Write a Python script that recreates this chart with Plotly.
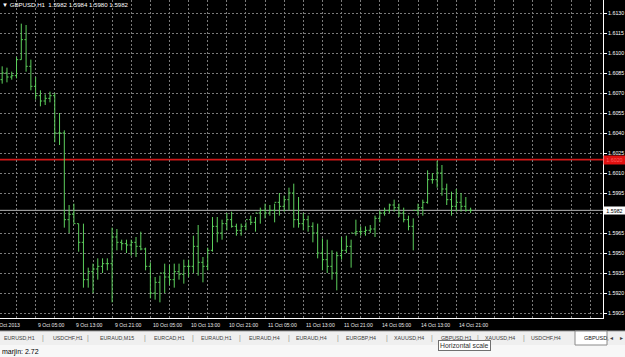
import plotly.graph_objects as go

# ---------------- data (GBPUSD, H1) ----------------
symbol = "GBPUSD,H1"
open_ = [1.6085, 1.6080, 1.6085, 1.6082, 1.6083, 1.6095, 1.6110, 1.6090, 1.6075, 1.6068,
         1.6064, 1.6066, 1.6068, 1.6040, 1.6040, 1.5975, 1.5979, 1.5972, 1.5958, 1.5930,
         1.5936, 1.5938, 1.5940, 1.5942, 1.5942, 1.5962, 1.5958, 1.5957, 1.5956, 1.5958,
         1.5955, 1.5953, 1.5940, 1.5920, 1.5928, 1.5935, 1.5932, 1.5930, 1.5936, 1.5934,
         1.5940, 1.5940, 1.5955, 1.5943, 1.5940, 1.5952, 1.5970, 1.5965, 1.5972, 1.5975,
         1.5970, 1.5967, 1.5970, 1.5975, 1.5973, 1.5980, 1.5982, 1.5980, 1.5982, 1.5988,
         1.5985, 1.5990, 1.5995, 1.5975, 1.5972, 1.5975, 1.5970, 1.5965, 1.5950, 1.5945,
         1.5940, 1.5935, 1.5948, 1.5952, 1.5955, 1.5965, 1.5966, 1.5966, 1.5967, 1.5968,
         1.5976, 1.5980, 1.5982, 1.5986, 1.5984, 1.5980, 1.5975, 1.5970, 1.5982, 1.5984,
         1.5988, 1.6005, 1.6005, 1.6010, 1.5998, 1.5990, 1.5985, 1.5988, 1.5985, 1.5982]
high = [1.6089, 1.6090, 1.6089, 1.6086, 1.6097, 1.6122, 1.6121, 1.6095, 1.6082, 1.6072,
        1.6069, 1.6071, 1.6070, 1.6055, 1.6042, 1.5986, 1.5987, 1.5972, 1.5972, 1.5939,
        1.5942, 1.5946, 1.5946, 1.5946, 1.5969, 1.5968, 1.5960, 1.5960, 1.5960, 1.5962,
        1.5966, 1.5954, 1.5943, 1.5932, 1.5933, 1.5942, 1.5941, 1.5942, 1.5942, 1.5945,
        1.5945, 1.5963, 1.5971, 1.5947, 1.5954, 1.5977, 1.5977, 1.5975, 1.5980, 1.5981,
        1.5972, 1.5972, 1.5973, 1.5978, 1.5977, 1.5984, 1.5987, 1.5986, 1.5987, 1.5995,
        1.5993, 1.5999, 1.6002, 1.5992, 1.5980, 1.5978, 1.5973, 1.5972, 1.5961, 1.5960,
        1.5952, 1.5951, 1.5962, 1.5963, 1.5960, 1.5975, 1.5970, 1.5970, 1.5971, 1.5978,
        1.5982, 1.5984, 1.5987, 1.5990, 1.5987, 1.5984, 1.5978, 1.5976, 1.5987, 1.5990,
        1.6012, 1.6010, 1.6019, 1.6016, 1.6002, 1.5996, 1.5998, 1.5995, 1.5992, 1.5984]
low = [1.6078, 1.6077, 1.6078, 1.6080, 1.6081, 1.6095, 1.6086, 1.6072, 1.6065, 1.6060,
       1.6061, 1.6063, 1.6033, 1.6031, 1.5969, 1.5965, 1.5972, 1.5951, 1.5924, 1.5924,
       1.5920, 1.5930, 1.5935, 1.5937, 1.5913, 1.5952, 1.5952, 1.5950, 1.5948, 1.5947,
       1.5952, 1.5937, 1.5916, 1.5915, 1.5913, 1.5920, 1.5926, 1.5924, 1.5930, 1.5927,
       1.5932, 1.5935, 1.5933, 1.5928, 1.5937, 1.5951, 1.5958, 1.5960, 1.5967, 1.5969,
       1.5963, 1.5963, 1.5967, 1.5971, 1.5966, 1.5972, 1.5976, 1.5978, 1.5973, 1.5978,
       1.5981, 1.5982, 1.5969, 1.5969, 1.5967, 1.5966, 1.5958, 1.5946, 1.5937, 1.5935,
       1.5930, 1.5922, 1.5945, 1.5950, 1.5939, 1.5963, 1.5963, 1.5963, 1.5965, 1.5962,
       1.5973, 1.5978, 1.5980, 1.5981, 1.5977, 1.5973, 1.5967, 1.5952, 1.5978, 1.5978,
       1.5987, 1.6002, 1.5999, 1.5993, 1.5986, 1.5978, 1.5981, 1.5981, 1.5981, 1.5980]
close = [1.6080, 1.6085, 1.6082, 1.6083, 1.6095, 1.6110, 1.6090, 1.6075, 1.6068, 1.6064,
         1.6066, 1.6068, 1.6040, 1.6040, 1.5975, 1.5979, 1.5972, 1.5958, 1.5930, 1.5936,
         1.5938, 1.5940, 1.5942, 1.5942, 1.5962, 1.5958, 1.5957, 1.5956, 1.5958, 1.5955,
         1.5953, 1.5940, 1.5920, 1.5928, 1.5935, 1.5932, 1.5930, 1.5936, 1.5934, 1.5940,
         1.5940, 1.5955, 1.5943, 1.5940, 1.5952, 1.5970, 1.5965, 1.5972, 1.5975, 1.5970,
         1.5967, 1.5970, 1.5975, 1.5973, 1.5980, 1.5982, 1.5980, 1.5982, 1.5988, 1.5985,
         1.5990, 1.5995, 1.5975, 1.5972, 1.5975, 1.5970, 1.5965, 1.5950, 1.5945, 1.5940,
         1.5935, 1.5948, 1.5952, 1.5955, 1.5965, 1.5966, 1.5966, 1.5967, 1.5968, 1.5976,
         1.5980, 1.5982, 1.5986, 1.5984, 1.5980, 1.5975, 1.5970, 1.5982, 1.5984, 1.5988,
         1.6005, 1.6005, 1.6010, 1.5998, 1.5990, 1.5985, 1.5988, 1.5985, 1.5982, 1.5982]
bar_index = list(range(len(close)))

# time-axis labels (every 8 bars)
date_label_bars = [0, 8, 16, 24, 32, 40, 48, 56, 64, 72, 80, 88, 96]
date_labels = ["8 Oct 2013", "9 Oct 05:00", "9 Oct 13:00", "9 Oct 21:00",
               "10 Oct 05:00", "10 Oct 13:00", "10 Oct 21:00", "11 Oct 05:00",
               "11 Oct 13:00", "11 Oct 21:00", "14 Oct 05:00", "14 Oct 13:00",
               "14 Oct 21:00"]
price_ticks = [1.5905, 1.5920, 1.5935, 1.5950, 1.5965, 1.5980, 1.5995, 1.6010,
               1.6025, 1.6040, 1.6055, 1.6070, 1.6085, 1.6100, 1.6115, 1.6130]
alert_level = 1.6020
bid_level = 1.5982
tabs = ["EURUSD,H1", "USDCHF,H1", "EURAUD,M15", "EURCAD,H1", "EURAUD,H1", "EURAUD,H4",
        "EURAUD,H4", "EURGBP,H4", "XAUUSD,H4", "GBPUSD,H1", "XAUUSD,H4", "USDCHF,H4"]
active_tab = "GBPUSD,"
status_text = "marjin: 2.72"
tooltip_text = "Horizontal scale"

# ---------------- layout geometry ----------------
W, H = 625, 357
PLOT_W, PLOT_H = 603, 318
BAR_PX = 4.78
FIRST_BAR_PX = -2.6
X_RANGE = [(0 - FIRST_BAR_PX) / BAR_PX, (PLOT_W - FIRST_BAR_PX) / BAR_PX]
Y_RANGE = [1.590125, 1.613975]
tab_px = [2, 51, 98, 152, 199, 247, 294, 344, 392, 439, 483, 529]
sep_px = [43, 88, 145, 193, 240, 289, 338, 387, 432, 478, 524]

def pxx(px):
    return px / PLOT_W

def pxy(py):
    return (PLOT_H - py) / PLOT_H

FONT = "Liberation Sans"
GREEN = "#5ccf5c"

fig = go.Figure(go.Ohlc(
    x=bar_index, open=open_, high=high, low=low, close=close,
    increasing=dict(line=dict(color=GREEN, width=1)),
    decreasing=dict(line=dict(color=GREEN, width=1)),
    tickwidth=0.35, hoverinfo="skip", showlegend=False,
))

shapes = [
    dict(type="line", xref="paper", yref="y", x0=0, x1=1, y0=alert_level, y1=alert_level,
         line=dict(color="#d01818", width=1.6), layer="below"),
    dict(type="line", xref="paper", yref="y", x0=0, x1=1, y0=bid_level, y1=bid_level,
         line=dict(color="#b8b8b8", width=1), layer="below"),
    dict(type="rect", xref="paper", yref="paper", x0=0, x1=pxx(W), y0=pxy(331), y1=pxy(345),
         fillcolor="#efefef", line=dict(width=0), layer="above"),
    dict(type="line", xref="paper", yref="paper", x0=0, x1=pxx(W), y0=pxy(331), y1=pxy(331),
         line=dict(color="#a0a0a0", width=1), layer="above"),
    dict(type="rect", xref="paper", yref="paper", x0=0, x1=pxx(W), y0=pxy(345), y1=pxy(H),
         fillcolor="#f7f7f7", line=dict(width=0), layer="above"),
    dict(type="rect", xref="paper", yref="paper", x0=pxx(575), x1=pxx(607), y0=pxy(331), y1=pxy(345),
         fillcolor="#ffffff", line=dict(color="#8a8a8a", width=1), layer="above"),
]

ann = []
ann.append(dict(xref="paper", yref="paper", x=pxx(0), y=pxy(4.5), xanchor="left", yanchor="middle",
                text="▼ %s  %.4f %.4f %.4f %.4f" % (symbol, open_[-1], high[-1], low[-1], close[-1]),
                showarrow=False, font=dict(family=FONT, size=6.1, color="#ffffff")))
for k, (b, t) in enumerate(zip(date_label_bars, date_labels)):
    shift = -4.5 if k == 0 else 0.5
    ann.append(dict(xref="paper", yref="paper", x=pxx(FIRST_BAR_PX + b * BAR_PX), y=pxy(325),
                    xanchor="left", yanchor="middle", xshift=shift, text=t, showarrow=False,
                    font=dict(family=FONT, size=5.1, color="#e8e8e8")))
ann.append(dict(xref="paper", yref="y", x=1, y=bid_level, xanchor="left", yanchor="middle",
                text="%.4f" % bid_level, showarrow=False, bgcolor="#ffffff", width=21, height=7,
                borderpad=0, align="center", font=dict(family=FONT, size=5.3, color="#000000")))
ann.append(dict(xref="paper", yref="y", x=1, y=alert_level, xanchor="left", yanchor="middle",
                text="%.4f" % alert_level, showarrow=False, bgcolor="#e01010", width=21, height=8,
                borderpad=0, align="center", font=dict(family=FONT, size=5.3, color="#ff6060")))
for p, t in zip(tab_px, tabs):
    ann.append(dict(xref="paper", yref="paper", x=pxx(p), y=pxy(337.5), xanchor="left",
                    yanchor="middle", text=t, showarrow=False,
                    font=dict(family=FONT, size=5.3, color="#404040")))
for p in sep_px:
    ann.append(dict(xref="paper", yref="paper", x=pxx(p), y=pxy(337.5), xanchor="center",
                    yanchor="middle", text="|", showarrow=False,
                    font=dict(family=FONT, size=7, color="#909090")))
ann.append(dict(xref="paper", yref="paper", x=pxx(582), y=pxy(337.5), xanchor="left",
                yanchor="middle", text=active_tab, showarrow=False,
                font=dict(family=FONT, size=5.5, color="#202020")))
ann.append(dict(xref="paper", yref="paper", x=pxx(611), y=pxy(337.5), xanchor="center",
                yanchor="middle", text="◂", showarrow=False,
                font=dict(family=FONT, size=6, color="#404040")))
ann.append(dict(xref="paper", yref="paper", x=pxx(621), y=pxy(337.5), xanchor="center",
                yanchor="middle", text="▸", showarrow=False,
                font=dict(family=FONT, size=6, color="#404040")))
ann.append(dict(xref="paper", yref="paper", x=pxx(438), y=pxy(345), xanchor="left",
                yanchor="middle", text=tooltip_text, showarrow=False, bgcolor="#ffffff",
                bordercolor="#707070", borderwidth=1, borderpad=1,
                font=dict(family=FONT, size=6.8, color="#303030")))
ann.append(dict(xref="paper", yref="paper", x=pxx(0), y=pxy(352), xanchor="left",
                yanchor="middle", text=status_text, showarrow=False,
                font=dict(family=FONT, size=7, color="#000000")))

# tick text hidden where the bid-price box sits on top of it
tick_text = ["" if abs(v - bid_level) < 0.0005 else "%.4f" % v for v in price_ticks]

fig.update_layout(
    width=W, height=H,
    margin=dict(l=0, r=W - PLOT_W, t=0, b=H - PLOT_H, pad=0),
    paper_bgcolor="#000000", plot_bgcolor="#000000",
    shapes=shapes, annotations=ann,
    showlegend=False,
    xaxis=dict(range=X_RANGE, rangeslider=dict(visible=False), tickmode="array",
               tickvals=list(range(-4, 132, 4)), showticklabels=False, ticks="",
               showgrid=True, gridcolor="#7a7a7a", griddash="2px,2px", gridwidth=1,
               zeroline=False, showline=True, linecolor="#ffffff", linewidth=1,
               automargin=False, fixedrange=True),
    yaxis=dict(range=Y_RANGE, side="right", tickmode="array", tickvals=price_ticks,
               ticktext=tick_text, ticks="outside", ticklen=3,
               tickcolor="#ffffff", tickfont=dict(family=FONT, size=5.3, color="#ffffff"),
               showgrid=True, gridcolor="#7a7a7a", griddash="2px,2px", gridwidth=1,
               zeroline=False, showline=True, linecolor="#ffffff", linewidth=1,
               automargin=False, fixedrange=True),
)

fig.write_html("out.html")
